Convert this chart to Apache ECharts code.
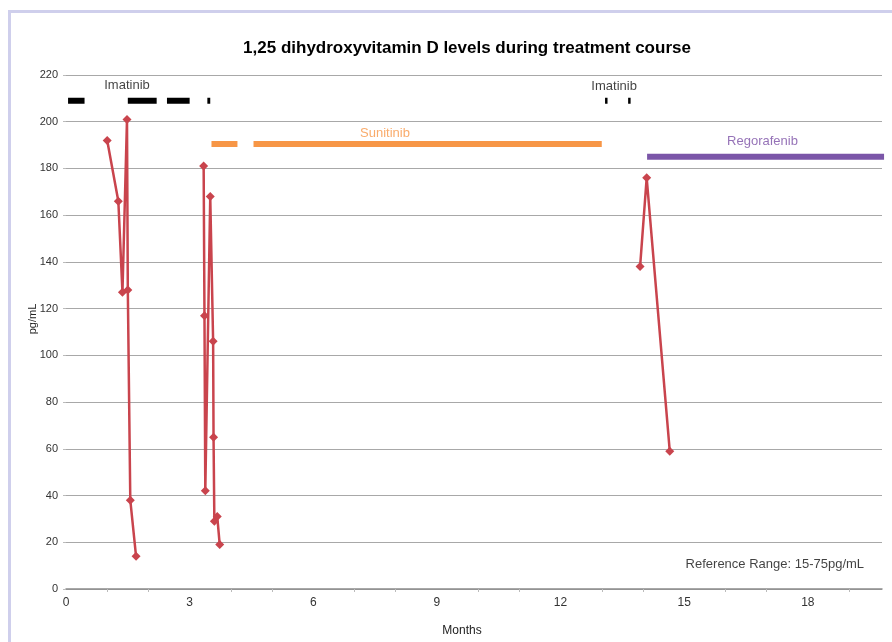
<!DOCTYPE html>
<html>
<head>
<meta charset="utf-8">
<script src="https://cdn.jsdelivr.net/npm/echarts@6/dist/echarts.min.js"></script>
<style>
  html, body { margin: 0; padding: 0; background: #fff; }
  #chart { width: 892px; height: 642px; }
</style>
</head>
<body>
<div id="chart"></div>
<script>
// measurements, [month, pg/mL]
const visit1 = [[1.0, 192], [1.27, 166], [1.37, 127], [1.48, 201], [1.5, 128], [1.56, 38], [1.7, 14]]
const visit2 = [[3.34, 181], [3.36, 117], [3.38, 42], [3.5, 168], [3.57, 106], [3.58, 65], [3.6, 29], [3.67, 31], [3.73, 19]]
const visit3 = [[13.93, 138], [14.09, 176], [14.65, 59]]

// treatment periods, [start, end] in months
const imatinibSpans = [[0.05, 0.45], [1.5, 2.2], [2.45, 3.0], [3.43, 3.5], [13.08, 13.14], [13.64, 13.7]]
const sunitinibSpans = [[3.53, 4.16], [4.55, 13.0]]
const regorafenibSpans = [[14.1, 19.85]]
const imatinibLevel = 209
const sunitinibLevel = 190.5
const regorafenibLevel = 185

const xTicks = [0, 3, 6, 9, 12, 15, 18]

// text annotations [month, pg/mL, text, colour]
const annotations = [
  [1.48, 215.5, 'Imatinib', '#111'],
  [13.3, 215, 'Imatinib', '#111'],
  [7.74, 195, 'Sunitinib', '#f79646'],
  [16.9, 191.5, 'Regorafenib', '#7a4fa5'],
  [17.2, 10.6, 'Reference Range: 15-75pg/mL', '#111'],
]

const FONT = 'Liberation Sans'

function spansToLine(spans, level) {
  const out = []
  spans.forEach((s, i) => {
    if (i > 0) out.push(null)
    out.push([s[0], level], [s[1], level])
  })
  return out
}

function joinVisits(...groups) {
  const out = []
  groups.forEach((g, i) => {
    if (i > 0) out.push(null)
    out.push(...g)
  })
  return out
}

const chart = echarts.init(document.getElementById('chart'))

chart.setOption({
  animation: false,
  textStyle: { fontFamily: FONT },
  title: {
    text: '1,25 dihydroxyvitamin D levels during treatment course',
    left: 462, top: 35,
    textAlign: 'center',
    textStyle: { fontSize: 17, fontWeight: 'bold', color: '#000', fontFamily: FONT },
  },
  graphic: [{
    type: 'rect',
    shape: { x: 9.5, y: 11.5, width: 900, height: 640 },
    style: { fill: 'none', stroke: '#cfcfec', lineWidth: 3 },
    silent: true,
  }],
  grid: { left: 66, right: 10, top: 75, bottom: 50 },
  xAxis: {
    type: 'value',
    min: 0, max: 19.8, interval: 3,
    name: 'Months',
    nameLocation: 'middle',
    nameGap: 36,
    nameTextStyle: { fontSize: 12, color: '#222', padding: [0, 24, 0, 0] },
    axisLine: { show: true, lineStyle: { color: '#8c8c8c', width: 1.5 } },
    axisTick: { show: false },
    minorTick: { show: true, splitNumber: 3, length: 3, lineStyle: { color: '#bbb' } },
    splitLine: { show: false },
    axisLabel: {
      fontSize: 12, color: '#333', margin: 8,
      formatter: v => xTicks.includes(v) ? String(v) : '',
    },
  },
  yAxis: {
    type: 'value',
    min: 0, max: 220, interval: 20,
    name: 'pg/mL',
    nameLocation: 'middle',
    nameRotate: 90,
    nameGap: 28,
    nameMoveOverlap: false,
    nameTextStyle: { fontSize: 11, color: '#222', padding: [0, 0, 0, 26] },
    axisLine: { show: false },
    axisTick: { show: true, length: 3, lineStyle: { color: '#bbb' } },
    splitLine: { lineStyle: { color: '#a8a8a8', width: 1 } },
    axisLabel: { fontSize: 11, color: '#333', margin: 8 },
  },
  series: [
    {
      name: 'Imatinib',
      type: 'line',
      data: spansToLine(imatinibSpans, imatinibLevel),
      symbol: 'none',
      connectNulls: false,
      lineStyle: { color: '#000', width: 6, cap: 'butt' },
      z: 3,
    },
    {
      name: 'Sunitinib',
      type: 'line',
      data: spansToLine(sunitinibSpans, sunitinibLevel),
      symbol: 'none',
      connectNulls: false,
      lineStyle: { color: '#f79646', width: 6, cap: 'butt' },
      z: 3,
    },
    {
      name: 'Regorafenib',
      type: 'line',
      data: spansToLine(regorafenibSpans, regorafenibLevel),
      symbol: 'none',
      lineStyle: { color: '#7b56a8', width: 6, cap: 'butt' },
      z: 3,
    },
    {
      name: '1,25 dihydroxyvitamin D',
      type: 'line',
      data: joinVisits(visit1, visit2, visit3),
      connectNulls: false,
      symbol: 'diamond',
      symbolSize: 9,
      lineStyle: { color: '#c9444d', width: 2.5 },
      itemStyle: { color: '#c9444d' },
      z: 4,
    },
    {
      name: 'labels',
      type: 'scatter',
      data: annotations.map(a => ({
        value: [a[0], a[1]],
        label: { formatter: a[2], color: a[3] },
      })),
      symbolSize: 1,
      itemStyle: { color: 'transparent' },
      label: {
        show: true, position: 'inside',
        fontSize: 13, fontFamily: FONT,
      },
      silent: true,
      z: 5,
    },
  ],
})
</script>
</body>
</html>
